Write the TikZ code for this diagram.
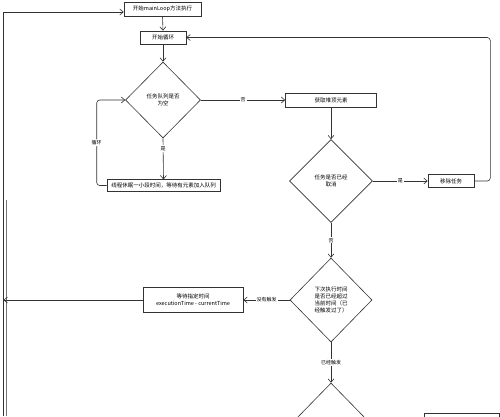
\documentclass[tikz,border=0pt]{standalone}
\usepackage{fontspec}
\newfontfamily\cjk{Noto Sans CJK SC}
\usetikzlibrary{shapes.geometric,arrows.meta}
\begin{document}
\begin{tikzpicture}[x=1pt,y=-1pt,
  every node/.style={font=\cjk\fontsize{5.5}{7}\selectfont},
  box/.style={draw=black!80, line width=0.6pt, inner sep=1pt, align=center, fill=white},
  dia/.style={draw=black!80, line width=0.6pt, shape=diamond, inner sep=0pt, align=center},
  conn/.style={draw=black!80, line width=0.6pt, -{Straight Barb[length=3.5pt,width=6pt]}},
  plainline/.style={draw=black!55, line width=0.6pt},
  lbl/.style={fill=white, inner sep=1pt, font=\cjk\fontsize{5}{6}\selectfont},
]
\useasboundingbox (0,0) rectangle (500,416);
\clip (0,0) rectangle (500,416);
\fill[white] (0,0) rectangle (500,416);

% nodes
\node[box, minimum width=77pt, minimum height=14pt] (b1) at (162.5,9) {开始mainLoop方法执行};
\node[box, minimum width=46pt, minimum height=13pt] (b2) at (163,37.5) {开始循环};
\node[dia, minimum width=75pt, minimum height=76pt] (d1) at (163,100) {任务队列是否\\为空};
\node[box, minimum width=113pt, minimum height=11.5pt] (b3) at (163.5,185.5) {线程休眠一小段时间，等待有元素加入队列};
\node[box, minimum width=91pt, minimum height=14pt] (b4) at (331,100) {获取堆顶元素};
\node[dia, minimum width=83pt, minimum height=83pt] (d2) at (331,181) {任务是否已经\\取消};
\node[box, minimum width=46pt, minimum height=13pt] (b5) at (451,181) {移除任务};
\node[dia, minimum width=82pt, minimum height=84pt] (d3) at (331,300) {下次执行时间\\是否已经超过\\当前时间（已\\经触发过了）};
\node[box, minimum width=100pt, minimum height=25pt] (b6) at (193,300) {等待指定时间\\executionTime - currentTime};
\node[dia, minimum width=82pt, minimum height=84pt] (d4) at (331,425) {};
\node[box, minimum width=75pt, minimum height=30pt, anchor=north west] (b7) at (424,413) {};

% free ends on the left
\coordinate (lb) at (3.5,416);
\coordinate (lm) at (3.5,300);
\coordinate (l2b) at (6.5,416);
\coordinate (l2t) at (6.5,200);

% connectors
\draw[plainline] (l2b) -- (l2t);
\draw[conn] (lb) |- ([yshift=-3pt]b1.west);
\draw[conn] (b1.south) -- (b2.north);
\draw[conn] (b2.south) -- (d1.north);
\draw[conn] (d1.south) -- node[lbl,pos=0.25]{是} (b3.north);
\draw[conn, rounded corners=3pt] (b3.west) -- ++(-10,0) |- node[lbl,pos=0.25]{循环} (d1.west);
\draw[conn] (d1.east) -- node[lbl]{否} (b4.west);
\draw[conn] (b4.south) -- (d2.north);
\draw[conn] (d2.east) -- node[lbl]{是} (b5.west);
\draw[conn, rounded corners=3pt] (b5.east) -- ++(16,0) |- (b2.east);
\draw[conn] (d2.south) -- node[lbl]{否} (d3.north);
\draw[conn] (d3.west) -- node[lbl]{没有触发} (b6.east);
\draw[conn] (b6.west) -- (lm);
\draw[conn] (d3.south) -- node[lbl]{已经触发} (d4.north);
\end{tikzpicture}
\end{document}
